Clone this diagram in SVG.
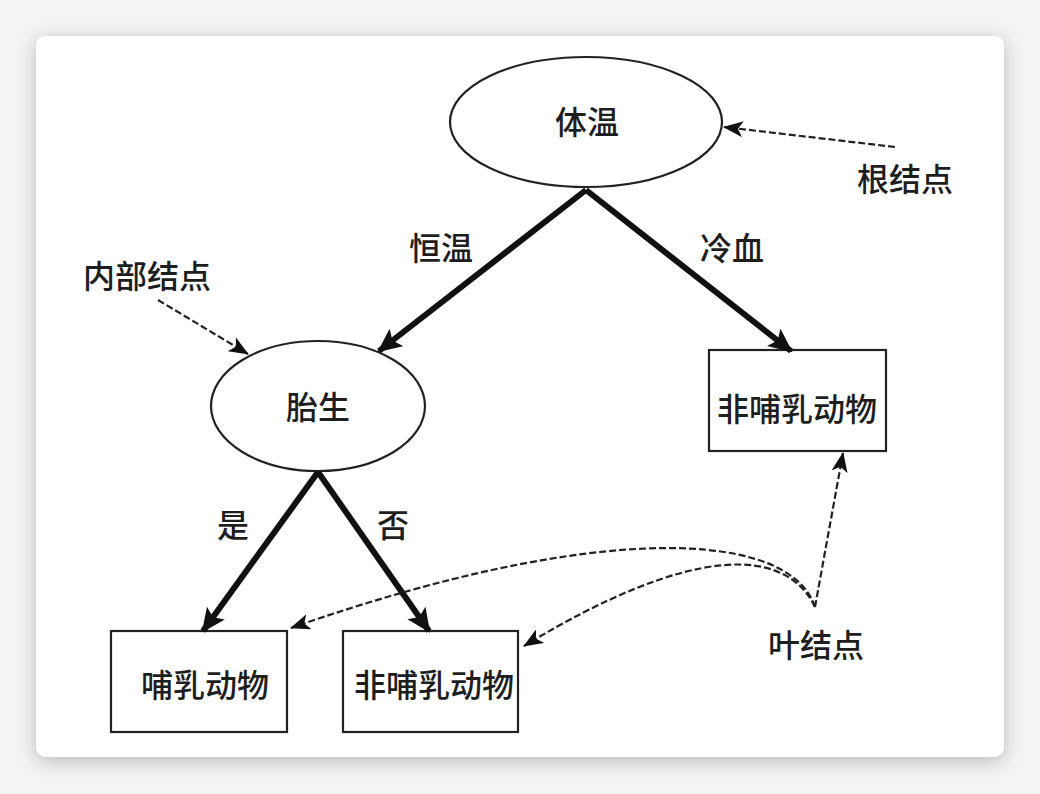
<svg xmlns="http://www.w3.org/2000/svg" width="1040" height="794" viewBox="0 0 1040 794">
<defs>
<filter id="sh" x="-10%" y="-10%" width="120%" height="120%">
<feGaussianBlur in="SourceAlpha" stdDeviation="10"/>
<feOffset dy="4"/>
<feComponentTransfer><feFuncA type="linear" slope="0.25"/></feComponentTransfer>
<feMerge><feMergeNode/><feMergeNode in="SourceGraphic"/></feMerge>
</filter>
<marker id="thick" markerUnits="userSpaceOnUse" viewBox="0 0 24 24" refX="22" refY="12" markerWidth="24" markerHeight="24" orient="auto">
<path d="M0,1 L24,12 L0,23 L5,12 Z" fill="#111"/>
</marker>
<marker id="thin" markerUnits="userSpaceOnUse" viewBox="0 0 20 16" refX="19" refY="8" markerWidth="20" markerHeight="16" orient="auto">
<path d="M0,0 L20,8 L0,16 L5,8 Z" fill="#111"/>
</marker>
</defs>
<style>
.node{fill:#fff;stroke:#222;stroke-width:2.2}
.t{font-family:"Noto Sans CJK SC","Noto Sans CJK JP",sans-serif;font-size:32px;font-weight:500;fill:#1e1e1e;text-anchor:middle;dominant-baseline:central}
.solid{fill:none;stroke:#111;stroke-width:6;marker-end:url(#thick)}
.dash{fill:none;stroke:#222;stroke-width:2.2;stroke-dasharray:7 3;marker-end:url(#thin)}
</style>
<rect width="1040" height="794" fill="#f4f4f4"/>
<rect x="36" y="36" width="968" height="721" rx="10" fill="#fff" filter="url(#sh)"/>
<g id="root">
<ellipse class="node" cx="586" cy="122" rx="136" ry="65"/>
<text class="t" x="587" y="120">体温</text>
</g>
<g id="internal">
<ellipse class="node" cx="318" cy="406" rx="107" ry="65"/>
<text class="t" x="318" y="405">胎生</text>
</g>
<g id="leaf-right">
<rect class="node" x="709" y="350" width="177" height="101"/>
<text class="t" x="797" y="407">非哺乳动物</text>
</g>
<g id="leaf-mammal">
<rect class="node" x="111" y="631" width="176" height="101"/>
<text class="t" x="205" y="683">哺乳动物</text>
</g>
<g id="leaf-nonmammal">
<rect class="node" x="343" y="631" width="175" height="101"/>
<text class="t" x="434" y="683">非哺乳动物</text>
</g>
<g id="labels">
<text class="t" x="441" y="246">恒温</text>
<text class="t" x="732" y="246">冷血</text>
<text class="t" x="233" y="523">是</text>
<text class="t" x="393" y="523">否</text>
<text class="t" x="905" y="177">根结点</text>
<text class="t" x="147" y="274">内部结点</text>
<text class="t" x="816" y="643">叶结点</text>
</g>
<g id="connectors">
<path class="solid" d="M586,190 L379,351"/>
<path class="solid" d="M586,190 L791,351"/>
<path class="solid" d="M318,472 L203,631"/>
<path class="solid" d="M318,472 L429,631"/>
<path class="dash" d="M895,147 L724,127"/>
<path class="dash" d="M158,300 L248,354"/>
<path class="dash" d="M815,607 L843,453"/>
<path class="dash" d="M815,607 C790,530 600,520 291,628"/>
<path class="dash" d="M815,607 C785,545 690,545 524,646"/>
</g>
</svg>
